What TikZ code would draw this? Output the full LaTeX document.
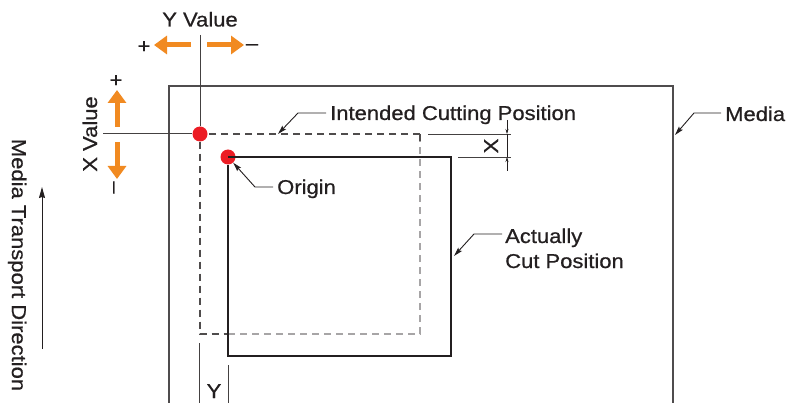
\documentclass[tikz,border=0pt]{standalone}
\usepackage{fontspec}
\usepackage{xcolor}
\setmainfont{Liberation Sans}[FakeStretch=1.1,FakeBold=0.7]
\usetikzlibrary{arrows.meta}
\definecolor{dotred}{HTML}{EC1C24}
\definecolor{markorange}{HTML}{F18A21}
\definecolor{inkgray}{HTML}{231F20}

\begin{document}
\begin{tikzpicture}[x=1pt,y=-1pt,
    lbl/.style={font=\fontsize{20}{24}\selectfont, text=inkgray, inner sep=0pt},
    thinline/.style={draw=inkgray!85, line width=1pt},
    dashline/.style={line width=1.2pt, dash pattern=on 7pt off 5pt},
    leader/.style={draw=inkgray, line width=0.9pt, -{Stealth[length=9pt,width=5pt,inset=1.5pt]}},
    dimtip/.style={draw=inkgray, line width=0.6pt, -{Stealth[length=5pt,width=3pt]}},
    bigarrow/.style={draw=markorange, line width=5pt, -{Triangle[length=13pt,width=18pt]}},
    reddot/.style={circle, fill=dotred, minimum size=15pt, inner sep=0pt}]
    \useasboundingbox (0,0) rectangle (786,403);

    % media sheet
    \draw[draw=inkgray!80, line width=1.3pt] (169,403) -- (169,86) -- (673,86) -- (673,403);

    % red marks and the two value lines
    \node[reddot] (target) at (200,134) {};
    \node[reddot] (origin) at (228,157) {};
    \coordinate (ytop) at (200,35);
    \coordinate (xleft) at (103,134);
    \draw[thinline] (ytop) -- (target);
    \draw[thinline] (xleft) -- (target);

    % intended cutting position (dashed)
    \draw[dashline, inkgray!80] (420,134) -- (target.east) (target.south) -- (200,334) -- (228,334);
    \draw[dashline, inkgray!40] (228,334) -- (420,334) -- (420,140);

    % actually cut position
    \draw[draw=inkgray, line width=1.3pt] (origin.center) -- (451,157) -- (451,356) -- (228,356) -- (origin.south);
    \draw[dashline, inkgray!80] (420,134) -- (420,141);

    % X offset
    \draw[thinline, line width=0.7pt] (428,134) -- (511,134);
    \draw[thinline, line width=0.7pt] (458,157) -- (511,157);
    \draw[dimtip] (507,120) -- (507,134);
    \draw[dimtip] (507,171) -- (507,157);
    \draw[draw=inkgray, line width=0.6pt] (507,134) -- (507,157);
    \node[lbl, rotate=90, anchor=base] (xdim) at (498,146) {X};

    % Y offset
    \draw[thinline] (199,343) -- (199,403);
    \draw[thinline] (228,365) -- (228,403);
    \node[lbl, anchor=base] (ydim) at (214,398) {Y};

    % value labels and orange arrows
    \node[lbl, anchor=base] (yvalue) at (200,26.5) {Y Value};
    \draw[bigarrow] (191,45) -- (154,45);
    \draw[bigarrow] (207,45) -- (244,45);
    \node[lbl] (yplus) at (144,47) {+};
    \node[lbl] (yminus) at (252,47) {–};

    \node[lbl, rotate=90, anchor=base] (xvalue) at (97,134) {X Value};
    \draw[bigarrow] (117,127) -- (117,90);
    \draw[bigarrow] (117,142) -- (117,179);
    \node[lbl] (xplus) at (116,81) {+};
    \node[lbl, rotate=90] (xminus) at (116,187.5) {–};

    % leaders and their texts
    \node[lbl, anchor=base west] (intended) at (330,120) {Intended Cutting Position};
    \coordinate (intendedtip) at (278,134);
    \draw[leader] ([xshift=-4pt]intended.west |- 0,113) -- ++(-28,0) -- (intendedtip);

    \node[lbl, anchor=base west] (originlbl) at (277,194) {Origin};
    \draw[leader] (273,187) -- ++(-18,0) -- (origin);

    \node[lbl, anchor=base west] (media) at (725,121) {Media};
    \coordinate (mediatip) at (675,135);
    \draw[leader] (721,113) -- ++(-27,0) -- (mediatip);

    \node[lbl, anchor=base west] (actually) at (505,243) {Actually};
    \node[lbl, anchor=base west] (cutpos) at (505,268) {Cut Position};
    \coordinate (cuttip) at (454,256);
    \draw[leader] (502,234) -- ++(-28,0) -- (cuttip);

    % transport direction
    \node[lbl, rotate=-90, anchor=base] (transport) at (12,265) {Media Transport Direction};
    \coordinate (trbottom) at (42,349);
    \coordinate (trtop) at (42,187);
    \draw[draw=inkgray, line width=1pt, -{Stealth[length=11pt,width=6pt,inset=1pt]}] (trbottom) -- (trtop);
\end{tikzpicture}
\end{document}
